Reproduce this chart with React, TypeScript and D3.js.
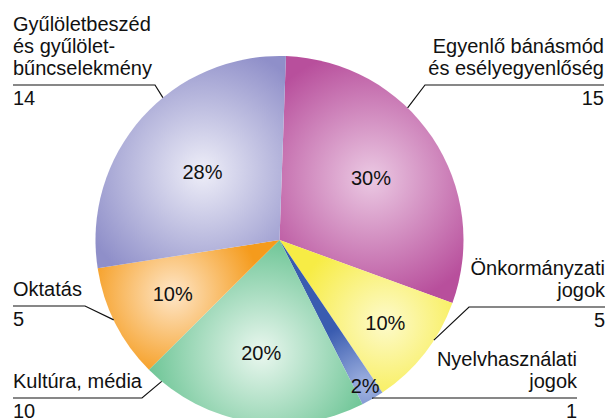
import React from 'react';
import * as d3 from 'd3';

// Adatok
const categories = [
  ['Egyenlő bánásmód', 'és esélyegyenlőség'],
  ['Önkormányzati', 'jogok'],
  ['Nyelvhasználati', 'jogok'],
  ['Kultúra, média'],
  ['Oktatás'],
  ['Gyűlöletbeszéd', 'és gyűlölet-', 'bűncselekmény'],
];
const counts = [15, 5, 1, 10, 5, 14];
const percents = ['30%', '10%', '2%', '20%', '10%', '28%'];

const baseColors = ['#b84f9c', '#f7ec45', '#3a5cb0', '#5ebf8b', '#f59b1c', '#8f8fc9'];
const lightColors = ['#ebc9e3', '#fdfacb', '#a3b5e2', '#eaf7ef', '#fee6c8', '#eeeef8'];

const W = 607;
const H = 418;
const cx = 279.5;
const cy = 240;
const R = 184;
const startOffset = (2 * Math.PI) / 180;

// felirat-elhelyezés (sugár aránya, vezetővonal helye a szeleten belül, színátmenet mérete)
const labelRadius = [0.6, 0.73, 0.92, 0.62, 0.65, 0.56];
const leaderFrac = [0.39, 0.36, 0.5, 0.925, 0.53, 0.59];
const gradRadius = [0.7, 0.5, 0.35, 0.7, 0.48, 0.7];

const App: React.FC = () => {
  const pie = d3.pie<number>().sort(null).startAngle(startOffset).endAngle(startOffset + 2 * Math.PI);
  const arcs = pie(counts);
  const arc = d3.arc<d3.PieArcDatum<number>>().innerRadius(0).outerRadius(R);

  const pt = (a: number, r: number) => [Math.sin(a) * r, -Math.cos(a) * r];
  const font = '"Liberation Sans", Arial, Helvetica, sans-serif';
  const fs = 20;
  const lh = 22;

  const anchor = (i: number) => {
    const a = arcs[i].startAngle + (arcs[i].endAngle - arcs[i].startAngle) * leaderFrac[i];
    const [x, y] = pt(a, R);
    return [cx + x, cy + y];
  };

  // külső címkék blokkjai: szöveg, vonal, szám
  const blocks = [
    { i: 5, side: 'left', lineY: 85, lineEnd: 155, textX: 13 },
    { i: 0, side: 'right', lineY: 85, lineEnd: 425, textX: 604 },
    { i: 1, side: 'right', lineY: 307, lineEnd: 469, textX: 605 },
    { i: 2, side: 'right', lineY: 398, lineEnd: null, textX: 577 },
    { i: 4, side: 'left', lineY: 306, lineEnd: 85, textX: 13 },
    { i: 3, side: 'left', lineY: 398, lineEnd: 142, textX: 13 },
  ];

  return (
    <svg width={W} height={H} style={{ position: 'absolute', left: 0, top: 0, background: '#fff' }}>
      <defs>
        {arcs.map((d, i) => {
          const mid = (d.startAngle + d.endAngle) / 2;
          const [x, y] = pt(mid, R * labelRadius[i]);
          return (
            <radialGradient
              key={i}
              id={`g${i}`}
              gradientUnits="userSpaceOnUse"
              cx={x}
              cy={y}
              r={R * gradRadius[i]}
            >
              <stop offset="0%" stopColor={lightColors[i]} />
              <stop offset="100%" stopColor={baseColors[i]} />
            </radialGradient>
          );
        })}
      </defs>
      <g transform={`translate(${cx},${cy})`}>
        {arcs.map((d, i) => (
          <path key={i} d={arc(d) || ''} fill={`url(#g${i})`} />
        ))}
      </g>
      <g fontFamily={font} fontSize={fs} fill="#111">
        {arcs.map((d, i) => {
          const mid = (d.startAngle + d.endAngle) / 2;
          const [x, y] = pt(mid, R * labelRadius[i]);
          return (
            <text key={i} x={cx + x} y={cy + y} textAnchor="middle" dominantBaseline="central">
              {percents[i]}
            </text>
          );
        })}
      </g>
      <g fontFamily={font} fontSize={fs} fill="#111">
        {blocks.map((b) => {
          const lines = categories[b.i];
          const [ax, ay] = anchor(b.i);
          const left = b.side === 'left';
          const x0 = b.textX;
          const elbowX = b.lineEnd === null ? ax : b.lineEnd;
          const firstBase = b.lineY - 10 - (lines.length - 1) * lh;
          return (
            <g key={b.i}>
              {lines.map((t, k) => (
                <text key={k} x={x0} y={firstBase + k * lh} textAnchor={left ? 'start' : 'end'}>
                  {t}
                </text>
              ))}
              <path
                d={`M${x0},${b.lineY}H${elbowX}L${ax},${ay}`}
                fill="none"
                stroke="#111"
                strokeWidth={1.2}
              />
              <text x={x0} y={b.lineY + 20} textAnchor={left ? 'start' : 'end'}>
                {counts[b.i]}
              </text>
            </g>
          );
        })}
      </g>
    </svg>
  );
};

export default App;
